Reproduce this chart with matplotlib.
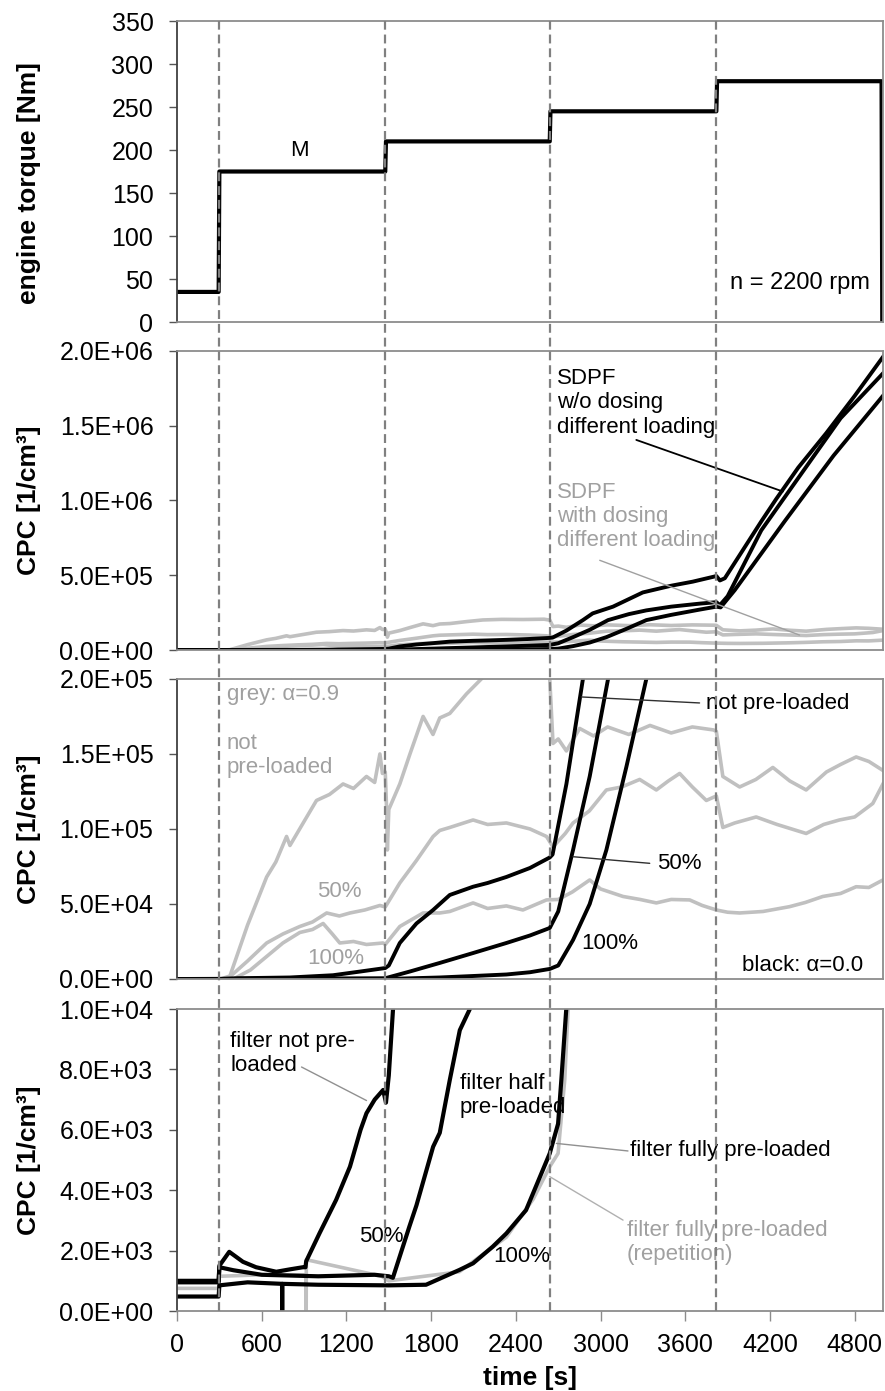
import matplotlib
matplotlib.use("Agg")
import matplotlib.pyplot as plt
from matplotlib.lines import Line2D
from matplotlib.ticker import FuncFormatter, MultipleLocator
from matplotlib.transforms import blended_transform_factory

plt.rcParams['font.family'] = ['Liberation Sans', 'DejaVu Sans']

# ---- data ----
step_times = [295, 1475, 2640, 3820]

torque_t = [0, 295, 300, 1475, 1480, 2640, 2645, 3820, 3825, 4990, 4995]
torque_v = [35, 35, 175, 175, 210, 210, 245, 245, 280, 280, 0]

# CPC black (alpha = 0.0): not pre-loaded / 50 % / 100 %
blk0_t = [0, 300, 430, 800, 1105, 1300, 1475, 1500, 1578, 1696, 1814, 1861, 1932, 2097, 2200, 2333, 2500, 2640, 2660,
          2758, 2875, 2944, 3088, 3299, 3500, 3652, 3800, 3820, 3845, 3880, 4138, 4244, 4400, 4598, 4800, 5000]
blk0_v = [0, 0, 500, 1000, 2500, 5000, 7300, 9000, 24000, 37000, 46000, 50000, 56000, 61500, 64000, 68000, 74000, 81000, 83000,
          130000, 200000, 245000, 290000, 385000, 430000, 457000, 490000, 495000, 465000, 480000, 860000, 1010000, 1220000, 1450000, 1700000, 1960000]
blk50_t = [0, 1475, 1650, 1861, 2097, 2333, 2500, 2640, 2700, 2805, 2923, 3053, 3200, 3324, 3500, 3700, 3820, 3845, 3900,
           4138, 4400, 4700, 5000]
blk50_v = [0, 500, 5000, 10700, 17300, 24000, 29000, 34000, 45000, 86000, 135000, 200000, 240000, 265000, 290000, 310000, 320000, 300000, 360000,
           800000, 1150000, 1550000, 1850000]
blk100_t = [0, 1475, 1861, 2100, 2333, 2500, 2640, 2700, 2805, 2923, 3041, 3183, 3324, 3500, 3700, 3820, 3850, 3950, 4303, 4650, 5000]
blk100_v = [0, 0, 1000, 2000, 3000, 4500, 6700, 9000, 26000, 50000, 86000, 141500, 200000, 235000, 270000, 290000, 285000, 400000, 860000, 1300000, 1700000]

# CPC grey (alpha = 0.9): not pre-loaded / 50 % / 100 %
gry0_t = [0, 310, 375, 500, 635, 700, 776, 800, 900, 988, 1080, 1176, 1250, 1342, 1400, 1437, 1455, 1475, 1485, 1490, 1500,
          1578, 1650, 1743, 1813, 1861, 1932, 2050, 2166, 2300, 2450, 2600, 2640, 2663, 2700, 2758, 2852, 2950, 3050, 3200,
          3350, 3500, 3650, 3800, 3820, 3866, 3985, 4100, 4220, 4340, 4456, 4600, 4700, 4810, 4900, 5000]
gry0_v = [0, 0, 2000, 36000, 68000, 78000, 95000, 89000, 105000, 119000, 123000, 130000, 127000, 135000, 131000, 150000, 137000, 138000, 112000, 86000, 113000,
          130000, 150000, 175000, 163000, 174000, 177000, 190000, 201000, 205000, 204000, 206000, 200000, 157000, 160000, 152000, 167000, 162000, 168000, 163000,
          169000, 164000, 168000, 166000, 165000, 135000, 128000, 133000, 141000, 132000, 126000, 138000, 143000, 148000, 145000, 139000]
gry50_t = [0, 330, 375, 500, 635, 750, 870, 960, 1060, 1150, 1225, 1330, 1437, 1475, 1578, 1696, 1814, 1861, 1932, 2097, 2200,
           2333, 2500, 2617, 2663, 2750, 2805, 2920, 3041, 3150, 3277, 3395, 3480, 3560, 3650, 3749, 3820, 3866, 3950, 4102,
           4250, 4456, 4580, 4692, 4800, 4928, 5000]
gry50_v = [0, 0, 1500, 12000, 24000, 30000, 35000, 38000, 44000, 42000, 44000, 46000, 49000, 48000, 64000, 79000, 95000, 99000, 101000, 106000, 103000,
           104000, 100000, 95000, 88000, 97000, 104000, 112000, 126000, 128000, 133000, 126000, 132000, 137000, 128000, 119000, 122000, 101000, 104000, 108000,
           103000, 97000, 103000, 106000, 108000, 117000, 130000]
gry100_t = [0, 400, 430, 520, 635, 750, 870, 960, 1035, 1100, 1153, 1250, 1342, 1460, 1475, 1578, 1743, 1861, 1932, 2097, 2200,
            2333, 2450, 2617, 2700, 2800, 2923, 3000, 3159, 3280, 3395, 3500, 3631, 3720, 3820, 3900, 3985, 4150, 4338, 4450,
            4574, 4700, 4810, 4900, 5000]
gry100_v = [0, 0, 1500, 6000, 15000, 24000, 31000, 33000, 37000, 30000, 24000, 25000, 23000, 24000, 23000, 35000, 44000, 44000, 45000, 50700, 47000,
            48700, 46000, 52700, 53000, 58000, 66000, 60000, 55000, 53000, 50700, 53000, 52700, 49000, 46000, 44500, 44000, 45000, 48200, 51000,
            55000, 57000, 61500, 61000, 66000]

# CPC low range: filter not / half / fully pre-loaded, fully pre-loaded repetition
f0_t = [0, 295, 300, 370, 467, 560, 703, 800, 892, 910, 915, 1010, 1127, 1225, 1300, 1342, 1400, 1460, 1480, 1500, 1530, 1560]
f0_v = [1000, 1000, 1500, 1960, 1630, 1450, 1300, 1380, 1450, 1450, 1650, 2580, 3680, 4780, 6000, 6550, 7000, 7320, 6900, 7800, 10000, 11000]
f50_t = [0, 295, 300, 400, 600, 1000, 1400, 1500, 1529, 1646, 1696, 1814, 1861, 1932, 2003, 2074, 2100]
f50_v = [950, 950, 1450, 1350, 1200, 1150, 1200, 1150, 1100, 2800, 3500, 5440, 5900, 7650, 9300, 10000, 11000]
f100_t = [0, 295, 300, 500, 744, 745, 746, 1000, 1500, 1764, 2000, 2097, 2236, 2333, 2472, 2522, 2640, 2699, 2722, 2757, 2770]
f100_v = [480, 480, 850, 950, 900, 0, 900, 870, 850, 870, 1360, 1580, 2130, 2570, 3340, 3900, 5220, 6200, 7650, 10000, 11000]
f100r_t = [0, 295, 300, 600, 914, 915, 916, 1450, 1500, 2000, 2333, 2522, 2640, 2699, 2746, 2770, 2780]
f100r_v = [750, 750, 1150, 1200, 1200, 0, 1700, 1150, 1000, 1300, 2450, 3700, 4780, 5220, 7650, 10000, 11000]

BLACK = '#000000'
GREY = '#c0c0c0'
GREY_TXT = '#a0a0a0'
SPINE = '#8c8c8c'
TXT = 16
LS = 1.2

fig = plt.figure(figsize=(8.85, 13.91), dpi=100)
left, width = 0.2, 0.7977
pos = [(0.7685, 0.2164), (0.5327, 0.2150), (0.2962, 0.2157), (0.0575, 0.2171)]
axes = [fig.add_axes([left, b, width, h]) for b, h in pos]
ax1, ax2, ax3, ax4 = axes


def sci(v, _):
    return f"{v:.1E}"


def integer(v, _):
    return f"{v:.0f}"


def style(ax, ymax, ystep, fmt, label):
    ax.set_xlim(0, 5000)
    ax.set_ylim(0, ymax)
    ax.yaxis.set_major_locator(MultipleLocator(ystep))
    ax.yaxis.set_major_formatter(FuncFormatter(fmt))
    ax.xaxis.set_major_locator(MultipleLocator(600))
    ax.tick_params(axis='y', direction='out', length=6, width=1, color='#555555', labelsize=18, pad=11)
    ax.tick_params(axis='x', bottom=False, labelbottom=False)
    for s in ['top', 'right', 'bottom']:
        ax.spines[s].set_color(SPINE)
        ax.spines[s].set_linewidth(1.3)
    ax.spines['left'].set_color('#404040')
    ax.spines['left'].set_linewidth(1.3)
    ax.set_ylabel(label, fontsize=19, fontweight='bold')
    ax.yaxis.set_label_coords(-0.193, 0.5)


style(ax1, 350, 50, integer, 'engine torque [Nm]')
style(ax2, 2.0e6, 5.0e5, sci, 'CPC [1/cm³]')
style(ax3, 2.0e5, 5.0e4, sci, 'CPC [1/cm³]')
style(ax4, 1.0e4, 2.0e3, sci, 'CPC [1/cm³]')
ax1.yaxis.set_label_coords(-0.193, 0.46)
ax4.tick_params(axis='x', bottom=True, labelbottom=True, direction='out', length=7, width=1,
                color=SPINE, labelsize=18, pad=9)
ax4.set_xlabel('time [s]', fontsize=19, fontweight='bold', labelpad=6)

# panel 1: torque
ax1.plot(torque_t, torque_v, color=BLACK, lw=3.0)
ax1.text(870, 200, 'M', fontsize=TXT, ha='center', va='center')
ax1.text(4910, 45, 'n = 2200 rpm', fontsize=17, ha='right', va='center')

# panels 2 and 3: same measurements, two y ranges
for ax in (ax2, ax3):
    for t, v in [(gry0_t, gry0_v), (gry50_t, gry50_v), (gry100_t, gry100_v)]:
        ax.plot(t, v, color=GREY, lw=2.6)
    for t, v in [(blk0_t, blk0_v), (blk50_t, blk50_v), (blk100_t, blk100_v)]:
        ax.plot(t, v, color=BLACK, lw=2.8)


def leader(ax, start, end, color, lw=1.0):
    ax.annotate('', xy=end, xytext=start,
                arrowprops=dict(arrowstyle='-', color=color, lw=lw, shrinkA=0, shrinkB=0))


ax2.text(2690, 1.652e6, 'SDPF\nw/o dosing\ndifferent loading', fontsize=TXT, ha='left', va='center',
         linespacing=LS, color=BLACK)
ax2.text(2690, 0.892e6, 'SDPF\nwith dosing\ndifferent loading', fontsize=TXT, ha='left', va='center',
         linespacing=LS, color=GREY_TXT)
leader(ax2, (3253, 1.405e6), (4291, 1.06e6), BLACK, 1.3)
leader(ax2, (2994, 6.0e5), (4409, 1.0e5), GREY_TXT, 1.0)

ax3.text(354, 1.893e5, 'grey: α=0.9', fontsize=TXT, ha='left', va='center', color=GREY_TXT)
ax3.text(354, 1.489e5, 'not\npre-loaded', fontsize=TXT, ha='left', va='center', color=GREY_TXT,
         linespacing=LS)
ax3.text(1147, 5.82e4, '50%', fontsize=TXT, ha='center', va='center', color=GREY_TXT)
ax3.text(1127, 1.38e4, '100%', fontsize=TXT, ha='center', va='center', color=GREY_TXT)
ax3.text(3748, 1.838e5, 'not pre-loaded', fontsize=TXT, ha='left', va='center')
ax3.text(3397, 7.71e4, '50%', fontsize=TXT, ha='left', va='center')
ax3.text(2866, 2.38e4, '100%', fontsize=TXT, ha='left', va='center')
ax3.text(4859, 9.3e3, 'black: α=0.0', fontsize=TXT, ha='right', va='center')
leader(ax3, (2864, 1.88e5), (3701, 1.84e5), '#303030', 1.0)
leader(ax3, (2805, 8.15e4), (3348, 7.71e4), '#303030', 1.0)

# panel 4: low range
ax4.plot(f100r_t, f100r_v, color=GREY, lw=2.6)
for t, v in [(f0_t, f0_v), (f50_t, f50_v), (f100_t, f100_v)]:
    ax4.plot(t, v, color=BLACK, lw=3.0)
ax4.text(377, 8517, 'filter not pre-\nloaded', fontsize=TXT, ha='left', va='center', linespacing=LS)
ax4.text(1446, 2460, '50%', fontsize=TXT, ha='center', va='center')
ax4.text(2004, 7126, 'filter half\npre-loaded', fontsize=TXT, ha='left', va='center', linespacing=LS)
ax4.text(3208, 5331, 'filter fully pre-loaded', fontsize=TXT, ha='left', va='center')
ax4.text(3185, 2268, 'filter fully pre-loaded\n(repetition)', fontsize=TXT, ha='left', va='center',
         color=GREY_TXT, linespacing=LS)
ax4.text(2442, 1798, '100%', fontsize=TXT, ha='center', va='center')
leader(ax4, (882, 8080), (1342, 6970), '#909090', 1.0)
leader(ax4, (2687, 5550), (3194, 5300), '#909090', 1.0)
leader(ax4, (2640, 4450), (3159, 3010), '#b0b0b0', 1.0)

# load-step markers through all panels
trans = blended_transform_factory(ax4.transData, fig.transFigure)
y_bot = pos[3][0]
y_top = pos[0][0] + pos[0][1]
for ts in step_times:
    fig.add_artist(Line2D([ts, ts], [y_bot, y_top], transform=trans, color='#808080',
                          lw=1.6, dashes=(4, 2.2), zorder=3))

fig.savefig('out.png', dpi=100)
